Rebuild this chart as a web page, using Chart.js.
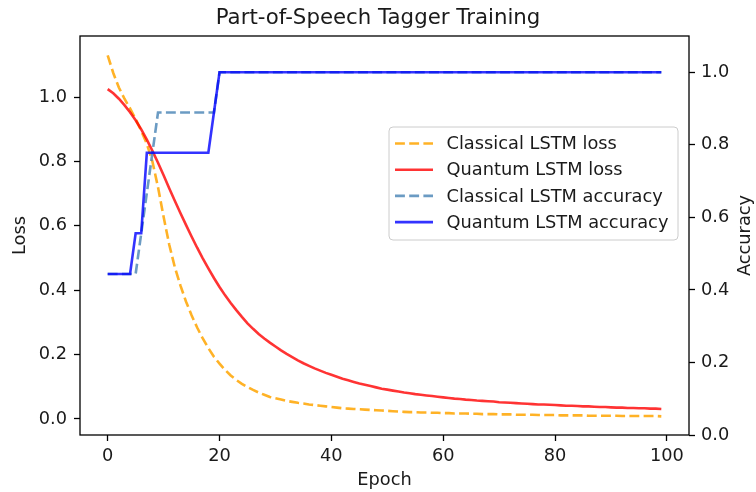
<!DOCTYPE html>
<html>
<head>
<meta charset="utf-8">
<script src="https://cdn.jsdelivr.net/npm/chart.js@4/dist/chart.umd.min.js"></script>
<style>
  html, body { margin: 0; padding: 0; background: #fff; }
  #wrap { width: 756px; height: 492px; position: relative; }
</style>
</head>
<body>
<div id="wrap"><canvas id="c" width="756" height="492"></canvas></div>
<script>
const epochs = [0,1,2,3,4,5,6,7,8,9,10,11,12,13,14,15,16,17,18,19,20,21,22,23,24,25,26,27,28,29,30,31,32,33,34,35,36,37,38,39,40,41,42,43,44,45,46,47,48,49,50,51,52,53,54,55,56,57,58,59,60,61,62,63,64,65,66,67,68,69,70,71,72,73,74,75,76,77,78,79,80,81,82,83,84,85,86,87,88,89,90,91,92,93,94,95,96,97,98,99];

const classicalLoss = [1.130,1.075,1.030,0.995,0.965,0.932,0.895,0.855,0.800,0.720,
  0.628,0.542,0.472,0.415,0.365,0.322,0.284,0.250,0.220,0.193,
  0.172,0.152,0.135,0.121,0.109,0.099,0.090,0.082,0.075,0.068,
  0.064,0.060,0.056,0.053,0.050,0.048,0.045,0.043,0.041,0.039,
  0.037,0.035,0.033,0.032,0.031,0.030,0.029,0.028,0.027,0.026,
  0.025,0.024,0.023,0.022,0.021,0.021,0.020,0.020,0.019,0.019,
  0.018,0.018,0.017,0.017,0.017,0.016,0.016,0.015,0.015,0.015,
  0.014,0.014,0.014,0.013,0.013,0.013,0.013,0.012,0.012,0.012,
  0.012,0.011,0.011,0.011,0.011,0.011,0.010,0.010,0.010,0.010,
  0.010,0.010,0.009,0.009,0.009,0.009,0.009,0.009,0.009,0.008];

const quantumLoss = [1.025,1.012,0.995,0.975,0.953,0.928,0.900,0.868,0.833,0.796,
  0.757,0.717,0.678,0.640,0.603,0.567,0.532,0.499,0.468,0.438,
  0.410,0.384,0.360,0.338,0.317,0.297,0.280,0.264,0.250,0.237,
  0.225,0.213,0.202,0.192,0.182,0.173,0.165,0.157,0.150,0.143,
  0.137,0.131,0.125,0.120,0.115,0.110,0.106,0.102,0.098,0.094,
  0.091,0.088,0.085,0.082,0.080,0.077,0.075,0.073,0.071,0.069,
  0.067,0.065,0.063,0.062,0.060,0.059,0.057,0.056,0.055,0.054,
  0.052,0.051,0.050,0.049,0.048,0.047,0.046,0.045,0.045,0.044,
  0.043,0.042,0.041,0.041,0.040,0.039,0.039,0.038,0.037,0.037,
  0.036,0.035,0.035,0.034,0.034,0.033,0.033,0.032,0.032,0.031];

const classicalAcc = [0.444,0.444,0.444,0.444,0.444,0.444,0.556,0.667,0.778,0.889,
  0.889,0.889,0.889,0.889,0.889,0.889,0.889,0.889,0.889,0.889,
  1,1,1,1,1,1,1,1,1,1, 1,1,1,1,1,1,1,1,1,1, 1,1,1,1,1,1,1,1,1,1,
  1,1,1,1,1,1,1,1,1,1, 1,1,1,1,1,1,1,1,1,1, 1,1,1,1,1,1,1,1,1,1,
  1,1,1,1,1,1,1,1,1,1, 1,1,1,1,1,1,1,1,1,1];

const quantumAcc = [0.444,0.444,0.444,0.444,0.444,0.556,0.556,0.778,0.778,0.778,
  0.778,0.778,0.778,0.778,0.778,0.778,0.778,0.778,0.778,0.889,
  1,1,1,1,1,1,1,1,1,1, 1,1,1,1,1,1,1,1,1,1, 1,1,1,1,1,1,1,1,1,1,
  1,1,1,1,1,1,1,1,1,1, 1,1,1,1,1,1,1,1,1,1, 1,1,1,1,1,1,1,1,1,1,
  1,1,1,1,1,1,1,1,1,1, 1,1,1,1,1,1,1,1,1,1];

const seriesNames = ['Classical LSTM loss','Quantum LSTM loss','Classical LSTM accuracy','Quantum LSTM accuracy'];
const xTicks = [0,20,40,60,80,100];
const xTickLabels = ['0','20','40','60','80','100'];
const lossTicks = [0,0.2,0.4,0.6,0.8,1.0];
const lossTickLabels = ['0.0','0.2','0.4','0.6','0.8','1.0'];
const accTicks = [0,0.2,0.4,0.6,0.8,1.0];
const accTickLabels = ['0.0','0.2','0.4','0.6','0.8','1.0'];
const accTitle = 'Accuracy';

const FONT = 'DejaVu Sans';
const TXT = '#1a1a1a';
const DASH = [9.9, 4.3];

const legendPlugin = {
  id: 'mplFrameLegend',
  afterDatasetsDraw(chart) {
    const ctx = chart.ctx, ca = chart.chartArea;
    ctx.save();
    ctx.strokeStyle = '#000';
    ctx.lineWidth = 1.3;
    ctx.strokeRect(ca.left, ca.top, ca.right - ca.left, ca.bottom - ca.top);

    const x0 = ca.right - 300, y0 = ca.top + 91, w = 289, h = 113;
    ctx.beginPath();
    ctx.roundRect(x0, y0, w, h, 4);
    ctx.fillStyle = 'rgba(255,255,255,0.8)';
    ctx.fill();
    ctx.strokeStyle = '#cccccc';
    ctx.lineWidth = 1;
    ctx.stroke();

    ctx.font = '17.8px "' + FONT + '"';
    ctx.textBaseline = 'middle';
    ctx.textAlign = 'left';
    chart.data.datasets.forEach((ds, i) => {
      const y = y0 + 16.5 + i * 26.2;
      ctx.beginPath();
      ctx.setLineDash(ds.borderDash || []);
      ctx.strokeStyle = ds.borderColor;
      ctx.lineWidth = ds.borderWidth;
      ctx.moveTo(x0 + 6, y);
      ctx.lineTo(x0 + 44, y);
      ctx.stroke();
      ctx.setLineDash([]);
      ctx.fillStyle = TXT;
      ctx.fillText(ds.label, x0 + 57.5, y + 1);
    });

    // right axis title, rotated to read bottom-to-top
    const s = chart.scales.y1;
    ctx.translate(s.right - 11, (ca.top + ca.bottom) / 2);
    ctx.rotate(-Math.PI / 2);
    ctx.textAlign = 'center';
    ctx.textBaseline = 'middle';
    ctx.fillStyle = TXT;
    ctx.fillText(accTitle, 0, 0);
    ctx.restore();
  }
};

function fixedTicks(vals) {
  return (scale) => { scale.ticks = vals.map(v => ({ value: v })); };
}

new Chart(document.getElementById('c'), {
  type: 'line',
  data: {
    labels: epochs,
    datasets: [
      { label: seriesNames[0], data: classicalLoss, yAxisID: 'y', borderColor: 'rgba(255,165,0,0.85)', borderDash: DASH, borderWidth: 2.6, pointRadius: 0, order: 4 },
      { label: seriesNames[1], data: quantumLoss, yAxisID: 'y', borderColor: 'rgba(255,0,0,0.8)', borderWidth: 2.6, pointRadius: 0, order: 3 },
      { label: seriesNames[2], data: classicalAcc, yAxisID: 'y1', borderColor: 'rgba(70,130,180,0.8)', borderDash: DASH, borderWidth: 2.6, pointRadius: 0, order: 2 },
      { label: seriesNames[3], data: quantumAcc, yAxisID: 'y1', borderColor: 'rgba(0,0,255,0.8)', borderWidth: 2.6, pointRadius: 0, order: 1 }
    ]
  },
  options: {
    responsive: false,
    animation: false,
    devicePixelRatio: 1,
    layout: { padding: 0 },
    elements: { line: { tension: 0, fill: false } },
    plugins: {
      legend: { display: false },
      tooltip: { enabled: false },
      title: {
        display: true,
        text: 'Part-of-Speech Tagger Training',
        color: TXT,
        font: { family: FONT, size: 21.3, weight: 'normal', lineHeight: 1.2 },
        padding: { top: 6, bottom: 4.44 }
      }
    },
    scales: {
      x: {
        type: 'linear',
        min: -4.95, max: 103.95,
        afterBuildTicks: fixedTicks(xTicks),
        afterFit: (s) => { s.height = 57; },
        border: { display: false },
        grid: { drawOnChartArea: false, drawTicks: true, tickLength: 6, tickColor: '#000', tickWidth: 1.3 },
        ticks: { color: TXT, padding: 5, maxRotation: 0, autoSkip: false,
          font: { family: FONT, size: 17.8 },
          callback: (v, i) => xTickLabels[i] },
        title: { display: true, text: 'Epoch', color: TXT, font: { family: FONT, size: 17.8, lineHeight: 1.2 }, padding: { top: 0, bottom: 1 } }
      },
      y: {
        position: 'left',
        min: -0.05, max: 1.19,
        afterBuildTicks: fixedTicks(lossTicks),
        afterFit: (s) => { s.width = 80; },
        border: { display: false },
        grid: { drawOnChartArea: false, drawTicks: true, tickLength: 6, tickColor: '#000', tickWidth: 1.3 },
        ticks: { color: TXT, padding: 7, autoSkip: false,
          font: { family: FONT, size: 17.8 },
          callback: (v, i) => lossTickLabels[i] },
        title: { display: true, text: 'Loss', color: TXT, font: { family: FONT, size: 17.8, lineHeight: 1.2 }, padding: { top: 10, bottom: 0 } }
      },
      y1: {
        position: 'right',
        min: 0, max: 1.1,
        afterBuildTicks: fixedTicks(accTicks),
        afterFit: (s) => { s.width = 67; },
        border: { display: false },
        grid: { drawOnChartArea: false, drawTicks: true, tickLength: 6, tickColor: '#000', tickWidth: 1.3 },
        ticks: { color: TXT, padding: 6, autoSkip: false,
          font: { family: FONT, size: 17.8 },
          callback: (v, i) => accTickLabels[i] },
        title: { display: false }
      }
    }
  },
  plugins: [legendPlugin]
});
</script>
</body>
</html>
